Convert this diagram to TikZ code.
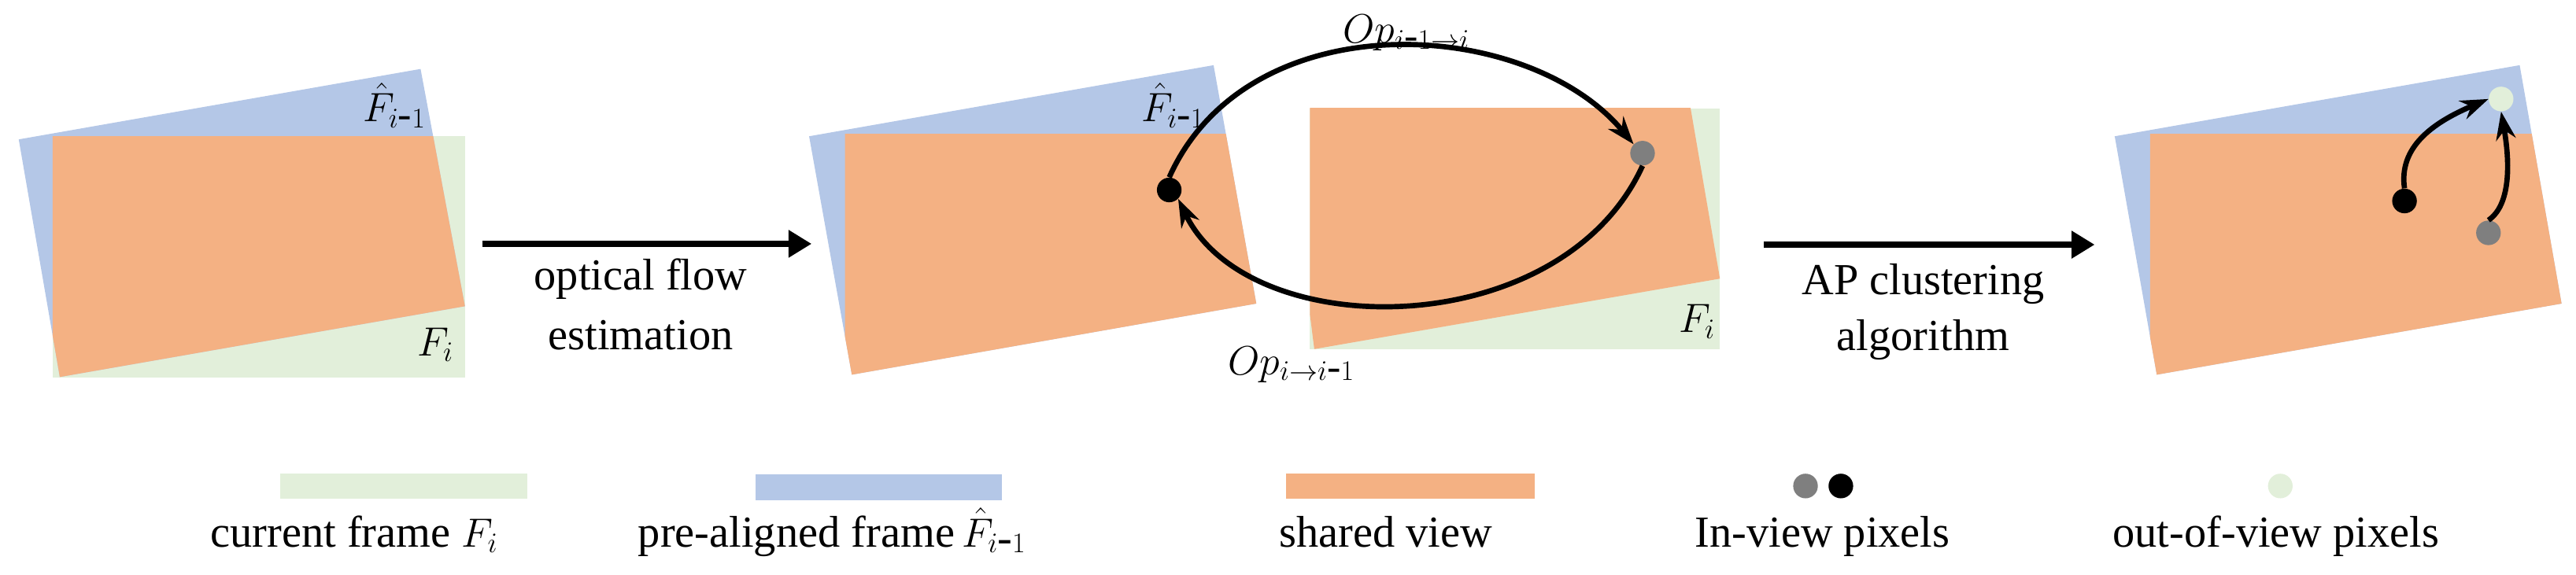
\documentclass[tikz,border=0pt]{standalone}
\usepackage{fontspec}
\setmainfont{Liberation Serif}
\usetikzlibrary{arrows.meta}
\definecolor{cgreen}{HTML}{E2EFDA}
\definecolor{cblue}{HTML}{B4C7E7}
\definecolor{corange}{HTML}{F4B183}
\definecolor{cgray}{HTML}{7F7F7F}
\newcommand{\imo}{i\mbox{-}1}
\begin{document}
\begin{tikzpicture}[x=1pt,y=-1pt,
  txt/.style={font=\fontsize{27}{30}\selectfont, inner sep=0pt},
  lab/.style={font=\fontsize{25}{28}\selectfont, inner sep=0pt},
  big/.style={line width=3.4pt,-{Triangle[length=14pt,width=16pt]}},
  flow/.style={line width=3.2pt,-{Stealth[length=17pt,width=12pt]}},
  dot/.style={circle,minimum size=15pt,inner sep=0pt}]
\useasboundingbox (0,0) rectangle (1568,350);
% panel 1
\fill[cgreen] (32,83) rectangle (283,230);
\fill[cblue] (11.4,84.9) -- (256,42) -- (283,186.5) -- (36.4,229.6) -- cycle;
\begin{scope}
\clip (32,83) rectangle (283,230);
\fill[corange] (11.4,84.9) -- (256,42) -- (283,186.5) -- (36.4,229.6) -- cycle;
\end{scope}
\node[lab] (l1) at (240,64) {$\hat{F}_{\imo}$};
\node[lab] (l2) at (265,210) {$F_i$};
% arrow 1
\coordinate (a1s) at (293.5,148.5);
\coordinate (a1e) at (494,148.5);
\draw[big] (a1s) -- (a1e);
\node[txt] (t1) at (390,170) {optical flow};
\node[txt] (t2) at (390,204) {estimation};
% panel 2
\fill[cblue] (492.5,83) -- (738.7,39.7) -- (764.7,184.9) -- (518.5,228.2) -- cycle;
\begin{scope}
\clip (514.3,81.5) rectangle (800,260);
\fill[corange] (492.5,83) -- (738.7,39.7) -- (764.7,184.9) -- (518.5,228.2) -- cycle;
\end{scope}
\node[lab] (l3) at (714,64) {$\hat{F}_{\imo}$};
% panel 3
\fill[cgreen] (797.4,65.9) rectangle (1046.9,212.6);
\begin{scope}
\clip (797.4,65.9) rectangle (1046.9,212.6);
\fill[corange] (775.7,20) -- (1022,25) -- (1046.9,169.7) -- (800,212.6) -- cycle;
\end{scope}
\node[lab] (l4) at (1033,196) {$F_i$};
% dots and flows
\node[dot,fill=black] (bd) at (711.7,115.7) {};
\node[dot,fill=cgray] (gd) at (999.8,93.3) {};
\draw[flow] (bd.north) .. controls (760,0) and (930,10) .. (gd.north west);
\draw[flow] (gd.south) .. controls (950,210) and (760,210) .. (bd.south east);
\node[lab] (op1) at (856,20) {$Op_{\imo\rightarrow i}$};
\node[lab] (op2) at (786,222) {$Op_{i\rightarrow \imo}$};
% arrow 2
\coordinate (a2s) at (1073.5,149);
\coordinate (a2e) at (1275,149);
\draw[big] (a2s) -- (a2e);
\node[txt] (t3) at (1170.6,173) {AP clustering};
\node[txt] (t4) at (1170.6,207) {algorithm};
% panel 4
\fill[cblue] (1287.2,83) -- (1533.7,39.7) -- (1559.2,184.9) -- (1312.8,228.2) -- cycle;
\begin{scope}
\clip (1308.7,81.5) rectangle (1600,260);
\fill[corange] (1287.2,83) -- (1533.7,39.7) -- (1559.2,184.9) -- (1312.8,228.2) -- cycle;
\end{scope}
\node[dot,fill=cgreen] (od) at (1522.4,60.3) {};
\node[dot,fill=black] (bd2) at (1463.6,122.4) {};
\node[dot,fill=cgray] (gd2) at (1514.7,141.8) {};
\draw[flow] (bd2.north) .. controls (1460,90) and (1480,75) .. (od.west);
\draw[flow] (gd2.north) .. controls (1528,125) and (1528,100) .. (od.south);
% legend
\fill[cgreen] (170.4,288.5) rectangle (321,303.7);
\fill[cblue] (459.8,288.7) rectangle (610,304.6);
\fill[corange] (783,288.5) rectangle (934.4,303.7);
\node[dot,fill=cgray] (lg1) at (1099,296) {};
\node[dot,fill=black] (lg2) at (1120.5,296) {};
\node[dot,fill=cgreen] (lg3) at (1388,296) {};
\node[txt,anchor=base] (e1) at (215.6,333) {current frame $F_i$};
\node[txt,anchor=base] (e2) at (506.5,333) {pre-aligned frame\,$\hat{F}_{\imo}$};
\node[txt,anchor=base] (e3) at (843.4,333) {shared view};
\node[txt,anchor=base] (e4) at (1109.3,333) {In-view pixels};
\node[txt,anchor=base] (e5) at (1385.4,333) {out-of-view pixels};
\end{tikzpicture}
\end{document}
